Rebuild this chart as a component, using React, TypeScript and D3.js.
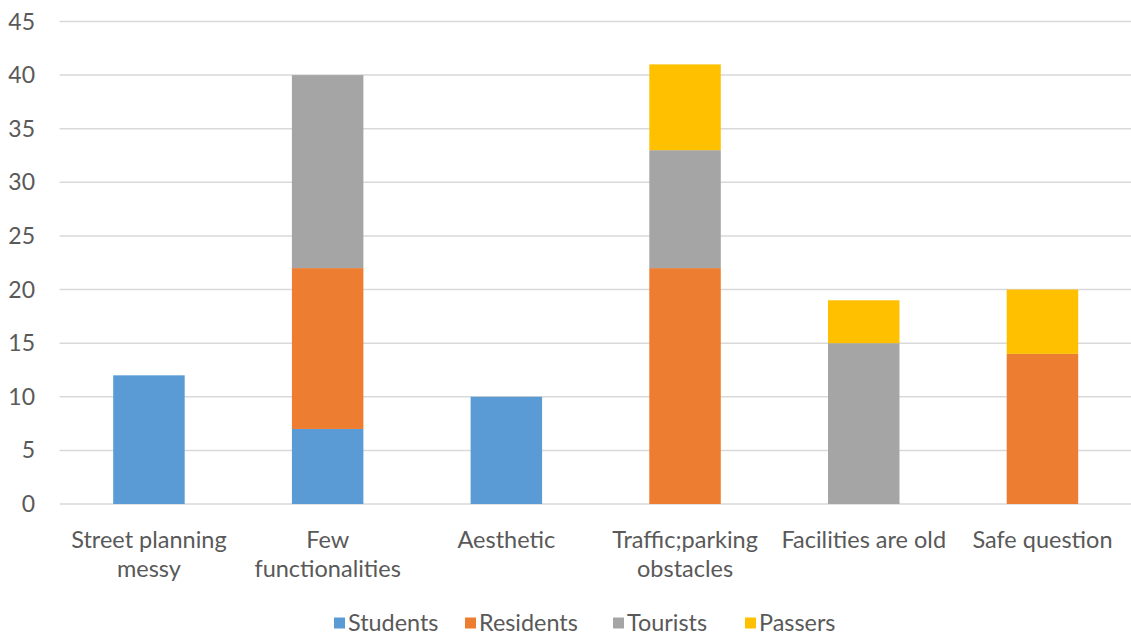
import React from "react";
import * as d3 from "d3";

const categories = [
  ["Street planning", "messy"],
  ["Few", "functionalities"],
  ["Aesthetic"],
  ["Traffic;parking", "obstacles"],
  ["Facilities are old"],
  ["Safe question"],
];
const seriesNames = ["Students", "Residents", "Tourists", "Passers"];
const students = [12, 7, 10, 0, 0, 0];
const residents = [0, 15, 0, 22, 0, 14];
const tourists = [0, 18, 0, 11, 15, 0];
const passers = [0, 0, 0, 8, 4, 6];
const yTicks = [0, 5, 10, 15, 20, 25, 30, 35, 40, 45];
const colors = ["#5b9bd5", "#ed7d31", "#a5a5a5", "#ffc000"];

export default function App() {
  const W = 1131, H = 637;
  const left = 59.6, right = 1131.8, top = 21.5, bottom = 504;
  const font = "Lato, 'Open Sans', sans-serif";
  const x = d3.scaleBand<number>().domain(d3.range(categories.length)).range([left, right]).paddingInner(0.6).paddingOuter(0.3);
  const y = d3.scaleLinear().domain([0, 45]).range([bottom, top]);
  const rows = categories.map((_, i) => ({ i, s0: students[i], s1: residents[i], s2: tourists[i], s3: passers[i] }));
  const stack = d3.stack<any>().keys(["s0", "s1", "s2", "s3"])(rows);
  const legendX = [334, 465, 613, 745];
  return (
    <svg width={W} height={H} style={{ position: "absolute", left: 0, top: 0, background: "#fff" }} fontFamily={font}>
      {yTicks.map((t) => (
        <g key={t}>
          <line x1={left} x2={right} y1={y(t)} y2={y(t)} stroke="#d9d9d9" strokeWidth={1.5} />
          <text x={35} y={y(t)} dy="0.35em" textAnchor="end" fontSize={23} fill="#595959">{t}</text>
        </g>
      ))}
      {stack.map((layer, k) => (
        <g key={k} fill={colors[k]}>
          {layer.map((d, i) => d[1] - d[0] > 0 ? (
            <rect key={i} x={x(i)} width={x.bandwidth()} y={y(d[1])} height={y(d[0]) - y(d[1])} />
          ) : null)}
        </g>
      ))}
      {categories.map((lines, i) => (
        <text key={i} textAnchor="middle" fontSize={23.5} fill="#595959">
          {lines.map((l, j) => (
            <tspan key={j} x={(x(i) as number) + x.bandwidth() / 2} y={548 + j * 29}>{l}</tspan>
          ))}
        </text>
      ))}
      {seriesNames.map((n, k) => (
        <g key={n}>
          <rect x={legendX[k]} y={617.5} width={11} height={11} fill={colors[k]} />
          <text x={legendX[k] + 14} y={623} dy="0.35em" fontSize={23.4} fill="#595959">{n}</text>
        </g>
      ))}
    </svg>
  );
}
